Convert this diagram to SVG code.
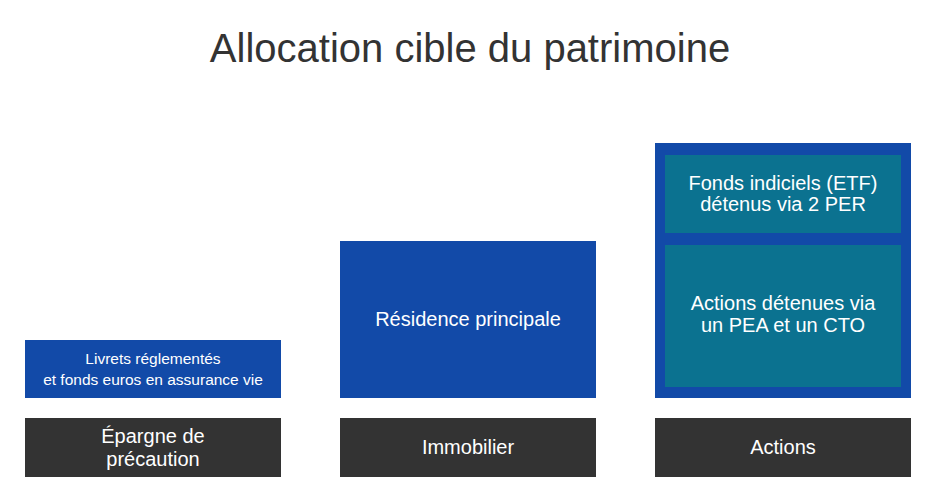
<svg xmlns="http://www.w3.org/2000/svg" width="939" height="501" viewBox="0 0 939 501">
<style>
text{font-family:"Liberation Sans",Arial,sans-serif;fill:#fff;text-anchor:middle}
.blue{fill:#124aa8}.teal{fill:#0b7290}.dark{fill:#333333}
.t{font-size:20px}.s{font-size:15.5px}
</style>
<rect width="939" height="501" fill="#fff"/>
<text x="470" y="62" style="font-size:40px;fill:#333">Allocation cible du patrimoine</text>
<g id="epargne">
<rect class="blue" x="25" y="340" width="256" height="58"/>
<text class="s" x="153" y="364">Livrets réglementés</text>
<text class="s" x="153" y="385">et fonds euros en assurance vie</text>
</g>
<g id="residence">
<rect class="blue" x="340" y="241" width="256" height="157"/>
<text class="t" x="468" y="326">Résidence principale</text>
</g>
<g id="actions-group">
<rect class="blue" x="655" y="143" width="256" height="255"/>
</g>
<g id="etf">
<rect class="teal" x="665" y="155" width="236" height="78"/>
<text class="t" x="783" y="190">Fonds indiciels (ETF)</text>
<text class="t" x="783" y="211">détenus via 2 PER</text>
</g>
<g id="pea">
<rect class="teal" x="665" y="245" width="236" height="142"/>
<text class="t" x="783" y="310">Actions détenues via</text>
<text class="t" x="783" y="332">un PEA et un CTO</text>
</g>
<g id="lbl-epargne">
<rect class="dark" x="25" y="418" width="256" height="59"/>
<text class="t" x="153" y="443">Épargne de</text>
<text class="t" x="153" y="466">précaution</text>
</g>
<g id="lbl-immo">
<rect class="dark" x="340" y="418" width="256" height="59"/>
<text class="t" x="468" y="454">Immobilier</text>
</g>
<g id="lbl-actions">
<rect class="dark" x="655" y="418" width="256" height="59"/>
<text class="t" x="783" y="454">Actions</text>
</g>
<g id="connectors"/>
</svg>
